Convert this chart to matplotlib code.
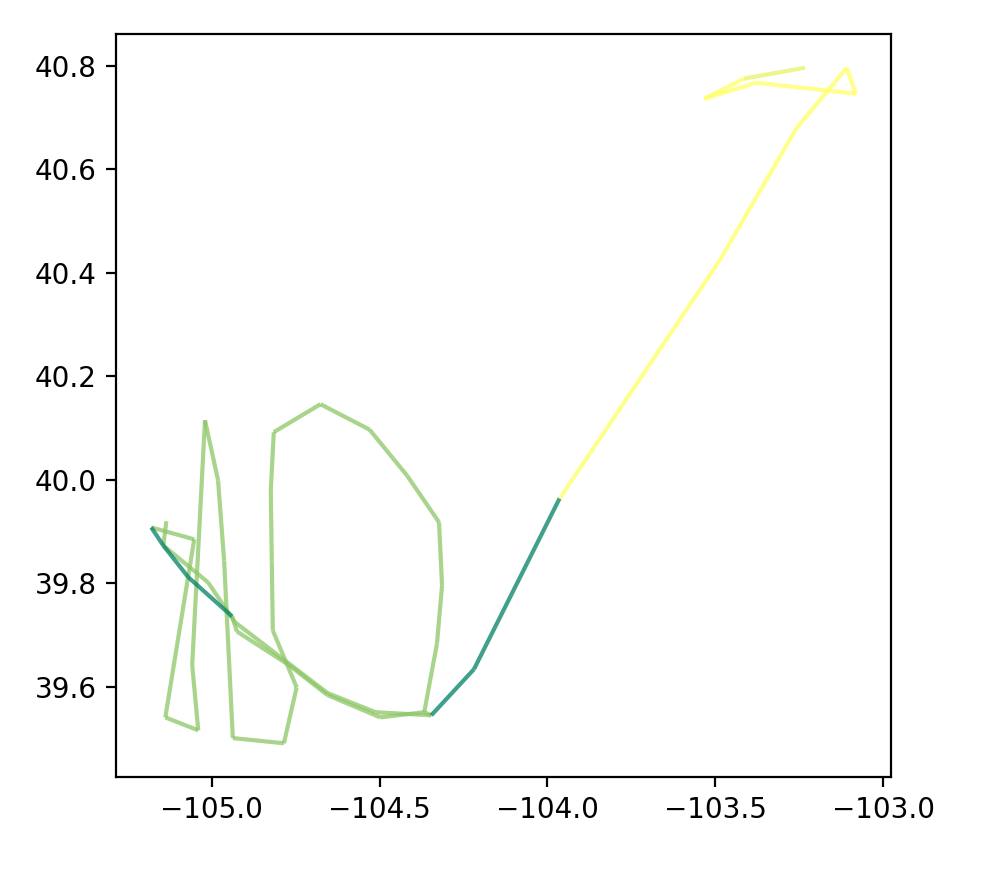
import numpy as np
import matplotlib.pyplot as plt
from matplotlib.collections import LineCollection

# GPS track pieces: longitude, latitude and a colour value for each segment
north_lon = [-103.233, -103.415, -103.533, -103.379, -103.082, -103.109, -103.260, -103.486, -103.964]
north_lat = [40.796, 40.775, 40.736, 40.767, 40.746, 40.796, 40.678, 40.425, 39.964]
north_val = [0.9, 1.0, 1.0, 1.0, 1.0, 1.0, 1.0, 1.0]

east_lon = [-103.964, -104.219, -104.346]
east_lat = [39.964, 39.634, 39.545]
east_val = [0.0, 0.0]

loop_lon = [-104.346, -104.367, -104.329, -104.314, -104.323, -104.418, -104.530, -104.676,
            -104.815, -104.824, -104.821, -104.818, -104.747, -104.785, -104.937, -104.963,
            -104.981, -105.020, -105.058, -105.040, -105.138, -105.052, -105.180]
loop_lat = [39.545, 39.551, 39.684, 39.796, 39.918, 40.008, 40.097, 40.146,
            40.092, 39.980, 39.842, 39.709, 39.599, 39.491, 39.501, 39.844,
            39.999, 40.115, 39.642, 39.516, 39.541, 39.885, 39.908]
loop_val = [0.55] * 22

west_lon = [-105.180, -105.144, -105.070, -104.939]
west_lat = [39.908, 39.873, 39.812, 39.736]
west_val = [0.0, 0.0, 0.0]

south_a_lon = [-104.939, -104.925, -104.770, -104.655, -104.498, -104.367]
south_a_lat = [39.736, 39.707, 39.642, 39.584, 39.541, 39.551]
south_a_val = [0.55] * 5

south_b_lon = [-105.135, -105.144, -105.011, -104.931, -104.776, -104.655, -104.512, -104.346]
south_b_lat = [39.920, 39.873, 39.802, 39.725, 39.648, 39.588, 39.551, 39.545]
south_b_val = [0.55] * 7

tracks = [
    (loop_lon, loop_lat, loop_val),
    (south_a_lon, south_a_lat, south_a_val),
    (south_b_lon, south_b_lat, south_b_val),
    (west_lon, west_lat, west_val),
    (east_lon, east_lat, east_val),
    (north_lon, north_lat, north_val),
]

fig, ax = plt.subplots(figsize=(4.945, 4.4), dpi=200)
fig.subplots_adjust(left=0.1173, right=0.9009, bottom=0.117, top=0.9614)

for lon, lat, val in tracks:
    pts = np.column_stack([lon, lat]).reshape(-1, 1, 2)
    segs = np.concatenate([pts[:-1], pts[1:]], axis=1)
    lc = LineCollection(segs, cmap='summer', norm=plt.Normalize(0, 1), alpha=0.75, linewidth=1.5)
    lc.set_array(np.asarray(val))
    ax.add_collection(lc)

ax.autoscale_view()
fig.savefig('out.png', dpi=200)
